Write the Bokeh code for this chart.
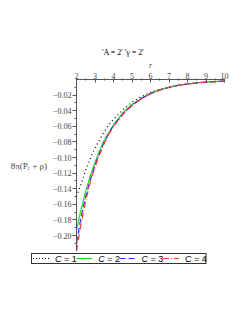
from bokeh.plotting import figure
from bokeh.models import FixedTicker, Div
from bokeh.layouts import column
from bokeh.embed import file_html
from bokeh.resources import INLINE

# ---- data ----
r = [2.0, 2.25, 2.5, 2.75, 3.0, 3.25, 3.5, 3.75, 4.0, 4.5, 5.0, 5.5, 6.0,
     6.5, 7.0, 7.5, 8.0, 8.5, 9.0, 9.5, 10.0]
c1 = [-0.150, -0.134, -0.116, -0.101, -0.088, -0.077, -0.067, -0.058, -0.051,
      -0.039, -0.029, -0.022, -0.0165, -0.0125, -0.0094, -0.0071, -0.0054,
      -0.0041, -0.0031, -0.0024, -0.0019]
c2 = [-0.193, -0.166, -0.143, -0.123, -0.106, -0.091, -0.078, -0.068, -0.058,
      -0.043, -0.032, -0.024, -0.0178, -0.0133, -0.0099, -0.0075, -0.0057,
      -0.0043, -0.0034, -0.0027, -0.0022]
c3 = [-0.209, -0.176, -0.150, -0.128, -0.110, -0.094, -0.080, -0.069, -0.059,
      -0.044, -0.033, -0.0245, -0.0181, -0.0135, -0.0100, -0.0076, -0.0058,
      -0.0044, -0.0034, -0.0027, -0.0022]
c4 = [-0.220, -0.184, -0.155, -0.131, -0.112, -0.096, -0.082, -0.070, -0.060,
      -0.045, -0.0335, -0.025, -0.0183, -0.0136, -0.0101, -0.0076, -0.0058,
      -0.0044, -0.0034, -0.0027, -0.0022]
series_labels = ["C = 1", "C = 2", "C = 3", "C = 4"]
x_ticks = [2, 3, 4, 5, 6, 7, 8, 9, 10]
x_minor = [2.5, 3.5, 4.5, 5.5, 6.5, 7.5, 8.5, 9.5]
y_ticks = [-0.02, -0.04, -0.06, -0.08, -0.10, -0.12, -0.14, -0.16, -0.18, -0.20]
y_tick_labels = ["\u22120.02", "\u22120.04", "\u22120.06", "\u22120.08", "\u22120.10",
                 "\u22120.12", "\u22120.14", "\u22120.16", "\u22120.18", "\u22120.20"]
y_minor = [-0.01, -0.03, -0.05, -0.07, -0.09, -0.11, -0.13, -0.15, -0.17, -0.19, -0.21]
title_text = "'A = 2' '\u03b3 = 2'"
ylabel_text = "8\u03c0(P\u1d63 + \u03c1)"

FONT = "Liberation Serif"
colors = ["black", "#22dd22", "#3333ff", "#ff3333"]
dashes = ["1 3", "solid", "6 3", "6 2 1 2"]

# ---- title strip ----
title_div = Div(
    width=237, height=57, margin=0,
    text=('<div style="padding:49px 0 0 102px;font-family:\'Liberation Serif\';'
          'font-size:8px;line-height:8px;white-space:nowrap;color:#000">'
          + title_text + '</div>'))

# ---- main plot ----
p = figure(width=237, height=194, output_backend="svg", toolbar_location=None,
           x_range=(2, 10), y_range=(-0.2205, 0),
           x_axis_location="above", y_axis_location="left",
           min_border_left=76, min_border_top=22, min_border_right=13,
           min_border_bottom=0)
p.frame_width = 148
p.frame_height = 172
p.outline_line_color = None
p.grid.visible = False
p.background_fill_color = "white"
p.border_fill_color = "white"

xa = p.xaxis[0]
xa.ticker = FixedTicker(ticks=x_ticks, minor_ticks=x_minor)
xa.axis_label = "r"
xa.axis_label_text_font = FONT
xa.axis_label_text_font_style = "italic"
xa.axis_label_text_font_size = "8px"
xa.axis_label_standoff = 0
xa.major_label_text_font = FONT
xa.major_label_text_font_size = "8px"
xa.major_label_standoff = 0
xa.major_tick_in = 3
xa.major_tick_out = 1
xa.minor_tick_in = 1
xa.minor_tick_out = 1
xa.axis_line_color = "#555555"
xa.major_tick_line_color = "#555555"
xa.minor_tick_line_color = "#555555"

ya = p.yaxis[0]
ya.ticker = FixedTicker(ticks=y_ticks, minor_ticks=y_minor)
ya.major_label_overrides = {t_: s for t_, s in zip(y_ticks, y_tick_labels)}
ya.major_label_text_font = FONT
ya.major_label_text_font_size = "8px"
ya.major_label_standoff = 1
ya.major_tick_in = 0
ya.major_tick_out = 4
ya.minor_tick_in = 0
ya.minor_tick_out = 2
ya.axis_line_color = "#555555"
ya.major_tick_line_color = "#555555"
ya.minor_tick_line_color = "#555555"
ya.axis_label = ylabel_text
ya.axis_label_orientation = "horizontal"
ya.axis_label_text_font = FONT
ya.axis_label_text_font_style = "normal"
ya.axis_label_text_font_size = "9px"
ya.axis_label_standoff = 3

for ys, col, d in zip([c1, c2, c3, c4], colors, dashes):
    p.line(r, ys, line_color=col, line_width=1.2, line_dash=d)

# ---- legend strip (box sits left of the plot frame, as in the reference) ----
parts = ['<svg xmlns="http://www.w3.org/2000/svg" width="237" height="22" '
         'style="display:block">',
         '<rect x="31.5" y="2.5" width="174.5" height="10" fill="white" '
         'stroke="#333333" stroke-width="1"/>']
for i, (lab, col, d) in enumerate(zip(series_labels, colors, dashes)):
    x0 = 33 + 43.3 * i
    dash_attr = '' if d == "solid" else ' stroke-dasharray="%s"' % d.replace("1 3", "1 2")
    parts.append('<line x1="%.1f" y1="7.5" x2="%.1f" y2="7.5" stroke="%s" '
                 'stroke-width="1.2"%s/>' % (x0, x0 + 16, col, dash_attr))
    sym, rest = lab.split(" ", 1)
    parts.append('<text x="%.1f" y="10.6" font-family="Liberation Serif" '
                 'font-size="9" fill="#000"><tspan font-style="italic">%s</tspan> %s</text>'
                 % (x0 + 22, sym, rest))
parts.append('</svg>')
legend_div = Div(width=237, height=22, margin=0, text="".join(parts))

layout = column(title_div, p, legend_div, spacing=0)
open("out.html", "w").write(file_html(layout, INLINE))
